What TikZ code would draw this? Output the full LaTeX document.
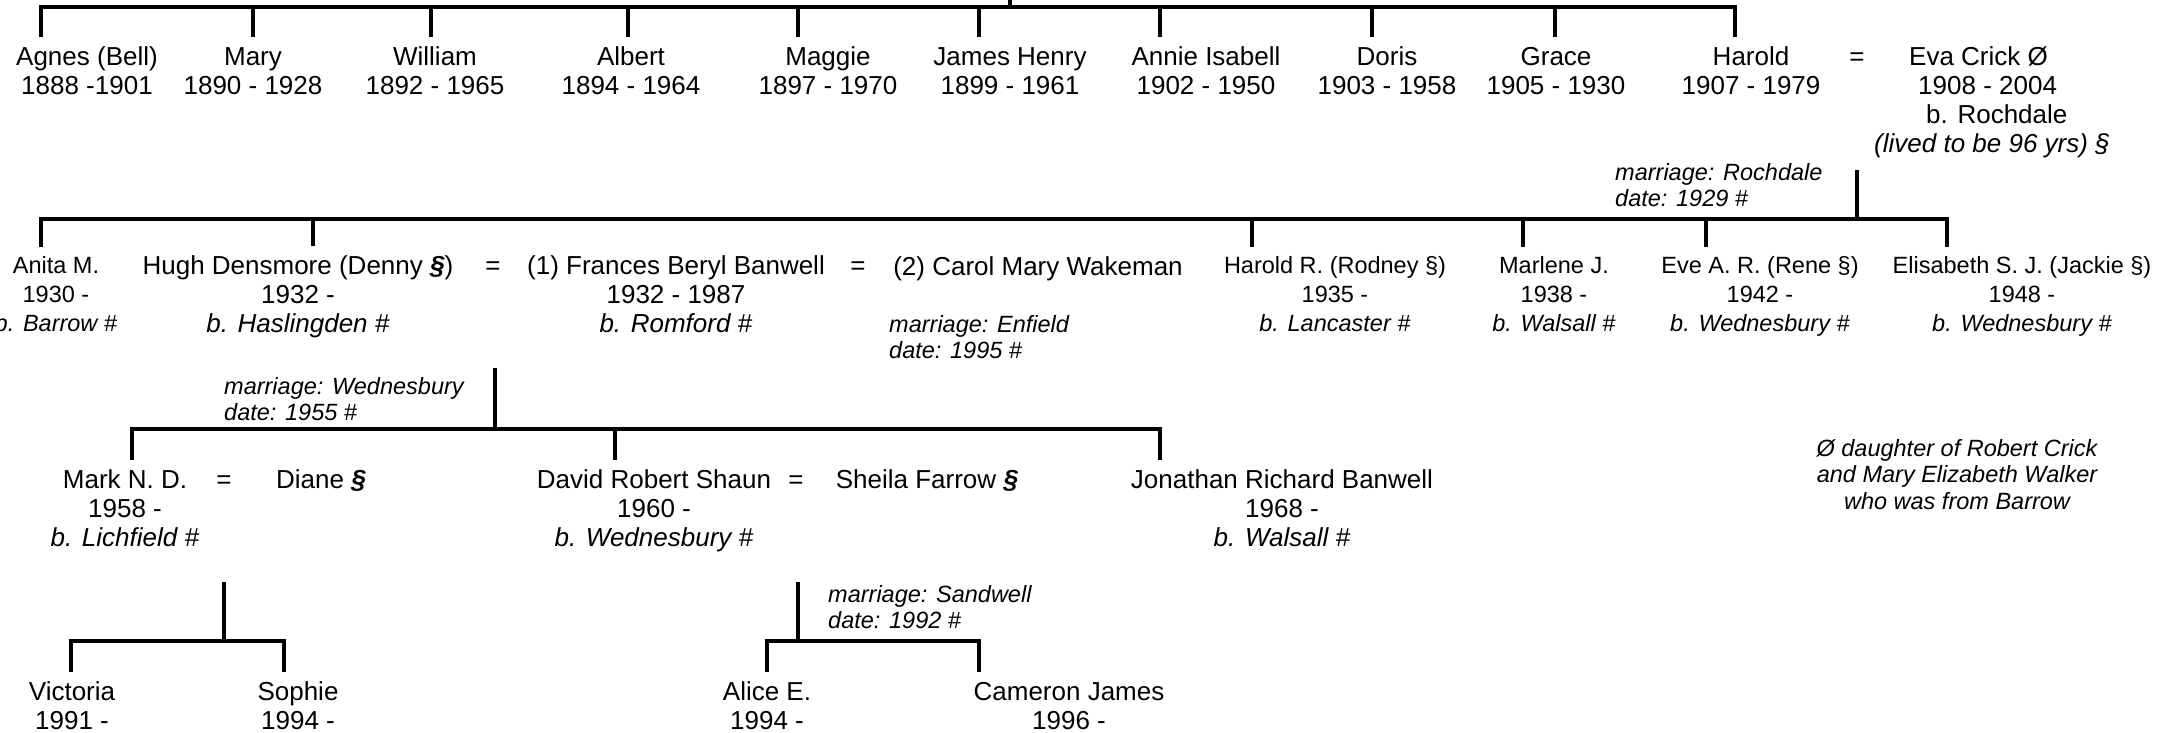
\documentclass[tikz,border=0pt]{standalone}
\usepackage{fontspec}
\setmainfont{Liberation Sans}
\newcommand{\ftlarge}{\fontsize{26pt}{29pt}\selectfont}
\newcommand{\ftsmall}{\fontsize{23.5pt}{29pt}\selectfont}
\newcommand{\ftnote}{\fontsize{23.5pt}{26.5pt}\selectfont\itshape}
\newcommand{\bsect}{\textbf{\textit{§}}}
% first line kept at a fixed height below the tick
\newcommand{\ftup}{\rule{0pt}{28pt}}
\newcommand{\ftups}{\rule{0pt}{26pt}}
\tikzset{
  branch/.style={line width=4pt},
  entry/.style={align=center, anchor=north, inner sep=0pt},
  person/.style={entry, font=\ftlarge},
  minor/.style={entry, font=\ftsmall},
  note/.style={align=left, anchor=north west, inner sep=0pt, font=\ftnote},
  wed/.style={anchor=base, inner sep=0pt, font=\ftlarge}
}
\begin{document}
\begin{tikzpicture}[x=1pt, y=-1pt]
  \useasboundingbox (0,0) rectangle (2167,732);

  % first generation
  \node[person] (agnes) at (87,37) {\ftup Agnes (Bell)\\1888 -1901};
  \node[person] (mary) at (253,37) {\ftup Mary\\1890 - 1928};
  \node[person] (william) at (435,37) {\ftup William\\1892 - 1965};
  \node[person] (albert) at (631,37) {\ftup Albert\\1894 - 1964};
  \node[person] (maggie) at (828,37) {\ftup Maggie\\1897 - 1970};
  \node[person] (james) at (1010,37) {\ftup James Henry\\1899 - 1961};
  \node[person] (annie) at (1206,37) {\ftup Annie Isabell\\1902 - 1950};
  \node[person] (doris) at (1387,37) {\ftup Doris\\1903 - 1958};
  \node[person] (grace) at (1556,37) {\ftup Grace\\1905 - 1930};
  \node[person] (harold) at (1751,37) {\ftup Harold\\1907 - 1979};
  \node[wed] (eq1) at (1857,65) {=};
  \node[person, align=left, anchor=north west] (eva) at (1874,37)
    {\ftup\hspace*{35pt}Eva Crick Ø\\\hspace*{44pt}1908 - 2004\\\hspace*{52pt}b. Rochdale\\\textit{(lived to be 96 yrs) §}};

  \coordinate (up1) at (1010,7);
  \coordinate (b1a) at (41,7);
  \coordinate (b1b) at (253,7);
  \coordinate (b1c) at (431,7);
  \coordinate (b1d) at (628,7);
  \coordinate (b1e) at (798,7);
  \coordinate (b1f) at (979,7);
  \coordinate (b1g) at (1160,7);
  \coordinate (b1h) at (1372,7);
  \coordinate (b1i) at (1555,7);
  \coordinate (b1j) at (1735,7);
  \draw[branch] (up1) -- ++(0,-10);
  \draw[branch] (b1a |- agnes.north) -- (b1a) -- (b1j) -- (b1j |- harold.north);
  \draw[branch] (b1b) -- (b1b |- mary.north);
  \draw[branch] (b1c) -- (b1c |- william.north);
  \draw[branch] (b1d) -- (b1d |- albert.north);
  \draw[branch] (b1e) -- (b1e |- maggie.north);
  \draw[branch] (b1f) -- (b1f |- james.north);
  \draw[branch] (b1g) -- (b1g |- annie.north);
  \draw[branch] (b1h) -- (b1h |- doris.north);
  \draw[branch] (b1i) -- (b1i |- grace.north);

  % second generation
  \node[note] (rochdale) at (1615,163) {marriage: Rochdale\\date: 1929 \#};
  \node[minor] (anita) at (56,247) {\ftups Anita M.\\1930 -\\\textit{b. Barrow \#}};
  \node[person] (hugh) at (298,246) {\ftup Hugh Densmore (Denny \bsect)\\1932 -\\\textit{b. Haslingden \#}};
  \node[wed] (eq2) at (493,274) {=};
  \node[person] (frances) at (676,246) {\ftup (1) Frances Beryl Banwell\\1932 - 1987\\\textit{b. Romford \#}};
  \node[wed] (eq3) at (858,274) {=};
  \node[person] (carol) at (1038,247) {\ftup (2) Carol Mary Wakeman};
  \node[note] (enfield) at (889,315) {marriage: Enfield\\date: 1995 \#};
  \node[minor] (rodney) at (1335,247) {\ftups Harold R. (Rodney §)\\1935 -\\\textit{b. Lancaster \#}};
  \node[minor] (marlene) at (1554,247) {\ftups Marlene J.\\1938 -\\\textit{b. Walsall \#}};
  \node[minor] (rene) at (1760,247) {\ftups Eve A. R. (Rene §)\\1942 -\\\textit{b. Wednesbury \#}};
  \node[minor] (jackie) at (2022,247) {\ftups Elisabeth S. J. (Jackie §)\\1948 -\\\textit{b. Wednesbury \#}};

  \coordinate (m1) at (1857,170);
  \coordinate (b2m) at (1857,219);
  \coordinate (b2a) at (41,219);
  \coordinate (b2b) at (313,219);
  \coordinate (b2c) at (1252,219);
  \coordinate (b2d) at (1523,219);
  \coordinate (b2e) at (1706,219);
  \coordinate (b2f) at (1947,219);
  \draw[branch] (m1) -- (b2m);
  \draw[branch] (b2a |- anita.north) -- (b2a) -- (b2f) -- (b2f |- jackie.north);
  \draw[branch] (b2b) -- (b2b |- hugh.north);
  \draw[branch] (b2c) -- (b2c |- rodney.north);
  \draw[branch] (b2d) -- (b2d |- marlene.north);
  \draw[branch] (b2e) -- (b2e |- rene.north);

  % third generation
  \node[note] (wednesbury) at (224,377) {marriage: Wednesbury\\date: 1955 \#};
  \node[person] (mark) at (125,460) {\ftup Mark N. D.\\1958 -\\\textit{b. Lichfield \#}};
  \node[wed] (eq4) at (224,488) {=};
  \node[person] (diane) at (321,460) {\ftup Diane \bsect};
  \node[person] (david) at (654,460) {\ftup David Robert Shaun\\1960 -\\\textit{b. Wednesbury \#}};
  \node[wed] (eq5) at (796,488) {=};
  \node[person] (sheila) at (927,460) {\ftup Sheila Farrow \bsect};
  \node[person] (jonathan) at (1282,460) {\ftup Jonathan Richard Banwell\\1968 -\\\textit{b. Walsall \#}};
  \node[note, align=center, anchor=north] (crick) at (1957,439)
    {Ø daughter of Robert Crick\\and Mary Elizabeth Walker\\who was from Barrow};

  \coordinate (m2) at (495,368);
  \coordinate (b3m) at (495,429);
  \coordinate (b3a) at (132,429);
  \coordinate (b3b) at (615,429);
  \coordinate (b3c) at (1160,429);
  \draw[branch] (m2) -- (b3m);
  \draw[branch] (b3a |- mark.north) -- (b3a) -- (b3c) -- (b3c |- jonathan.north);
  \draw[branch] (b3b) -- (b3b |- david.north);

  % fourth generation
  \node[person] (victoria) at (72,672) {\ftup Victoria\\1991 -};
  \node[person] (sophie) at (298,672) {\ftup Sophie\\1994 -};
  \node[note] (sandwell) at (828,585) {marriage: Sandwell\\date: 1992 \#};
  \node[person] (alice) at (767,672) {\ftup Alice E.\\1994 -};
  \node[person] (cameron) at (1069,672) {\ftup Cameron James\\1996 -};

  \coordinate (m3) at (224,582);
  \coordinate (b4m) at (224,641);
  \coordinate (b4a) at (71,641);
  \coordinate (b4b) at (284,641);
  \draw[branch] (m3) -- (b4m);
  \draw[branch] (b4a |- victoria.north) -- (b4a) -- (b4b) -- (b4b |- sophie.north);

  \coordinate (m4) at (798,582);
  \coordinate (b5m) at (798,641);
  \coordinate (b5a) at (767,641);
  \coordinate (b5b) at (979,641);
  \draw[branch] (m4) -- (b5m);
  \draw[branch] (b5a |- alice.north) -- (b5a) -- (b5b) -- (b5b |- cameron.north);
\end{tikzpicture}
\end{document}
